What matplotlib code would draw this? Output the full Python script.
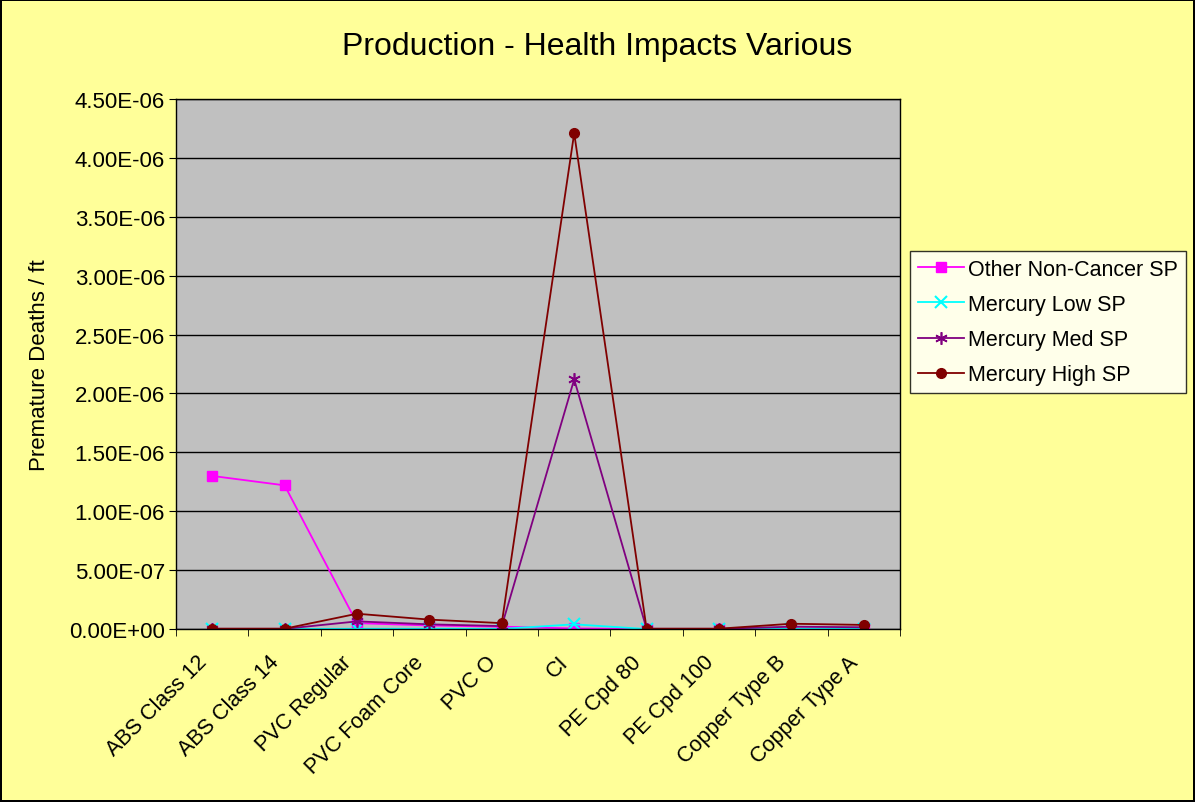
import matplotlib.pyplot as plt
import matplotlib.transforms as mtransforms
from matplotlib.ticker import FuncFormatter, MultipleLocator

plt.rcParams['font.family'] = ['Liberation Sans', 'DejaVu Sans']

categories = ['ABS Class 12', 'ABS Class 14', 'PVC Regular', 'PVC Foam Core', 'PVC O',
              'CI', 'PE Cpd 80', 'PE Cpd 100', 'Copper Type B', 'Copper Type A']

other_non_cancer = [1.30e-6, 1.22e-6, 0.05e-6, 0.03e-6, 0.02e-6, 0.005e-6, 0.0, 0.0, 0.003e-6, 0.002e-6]
mercury_low = [0.0, 0.0, 0.002e-6, 0.002e-6, 0.001e-6, 0.04e-6, 0.0, 0.0, 0.001e-6, 0.001e-6]
mercury_med = [0.002e-6, 0.002e-6, 0.065e-6, 0.04e-6, 0.025e-6, 2.12e-6, 0.002e-6, 0.002e-6, 0.02e-6, 0.015e-6]
mercury_high = [0.003e-6, 0.003e-6, 0.13e-6, 0.08e-6, 0.05e-6, 4.21e-6, 0.003e-6, 0.003e-6, 0.045e-6, 0.035e-6]

fig = plt.figure(figsize=(11.95, 8.03), dpi=100)
fig.patch.set_facecolor('#FFFF99')
fig.patch.set_edgecolor('black')
fig.patch.set_linewidth(1.5)

ax = fig.add_axes([0.1473, 0.2154, 0.6058, 0.660])
ax.set_facecolor('#C0C0C0')

x = range(len(categories))
ax.plot(x, other_non_cancer, color='#FF00FF', marker='s', markersize=7, lw=1.3, label='Other Non-Cancer SP')
ax.plot(x, mercury_low, color='#00FFFF', marker='x', markersize=8, mew=1.5, lw=1.3, label='Mercury Low SP')
ax.plot(x, mercury_med, color='#800080', marker=(6, 2, 0), markersize=9, mew=1.2, lw=1.3, label='Mercury Med SP')
ax.plot(x, mercury_high, color='#800000', marker='o', markersize=7, lw=1.3, label='Mercury High SP')

ax.set_xlim(-0.5, len(categories) - 0.5)
ax.set_ylim(0, 4.5e-6)
ax.yaxis.set_major_locator(MultipleLocator(0.5e-6))
ax.yaxis.set_major_formatter(FuncFormatter(lambda v, p: f'{v:.2E}'))
ax.grid(axis='y', color='black', lw=1)
ax.set_axisbelow(True)

ax.set_xticks(list(x))
ax.set_xticklabels(categories, rotation=45, ha='right', rotation_mode='anchor', fontsize=15.5)
ax.tick_params(axis='x', which='major', length=0, pad=16)
shift = mtransforms.ScaledTranslation(-16 / 100, 0, fig.dpi_scale_trans)
for lbl in ax.get_xticklabels():
    lbl.set_transform(lbl.get_transform() + shift)
ax.set_xticks([i - 0.5 for i in range(len(categories) + 1)], minor=True)
ax.tick_params(axis='x', which='minor', length=5, direction='out')
ax.tick_params(axis='y', length=5, direction='out', labelsize=16, pad=3)

for s in ax.spines.values():
    s.set_color('black')
    s.set_linewidth(1)

ax.set_ylabel('Premature Deaths / ft', fontsize=16, labelpad=14)
fig.text(0.5, 0.941, 'Production - Health Impacts Various', ha='center', va='center', fontsize=23)

leg = fig.legend(loc='upper left', bbox_to_anchor=(0.7615, 0.686), fontsize=15.5,
                 frameon=True, fancybox=False, edgecolor='black', facecolor='white',
                 handlelength=2.15, handletextpad=0.2, borderpad=0.35, labelspacing=0.66,
                 borderaxespad=0)
leg.get_frame().set_linewidth(1)

fig.savefig('out.png', dpi=100, facecolor=fig.get_facecolor(), edgecolor=fig.get_edgecolor())
